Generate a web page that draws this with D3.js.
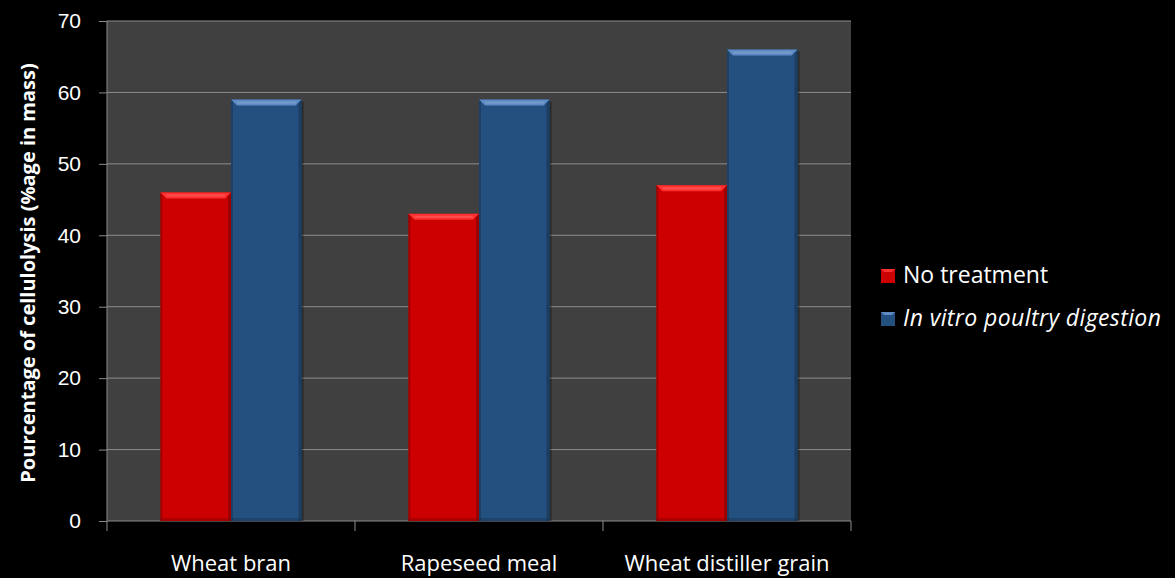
<!DOCTYPE html>
<html>
<head>
<meta charset="utf-8">
<script src="https://cdn.jsdelivr.net/npm/d3@7"></script>
<style>
  html, body { margin: 0; padding: 0; background: #000; }
  svg { display: block; font-family: "Open Sans", "Noto Sans", sans-serif; }
</style>
</head>
<body>
<svg id="chart" width="1175" height="578"></svg>
<script>
// Cellulolysis of feed ingredients, before and after in vitro poultry digestion
const categories = ["Wheat bran", "Rapeseed meal", "Wheat distiller grain"];
const seriesNames = ["No treatment", "In vitro poultry digestion"];
const noTreatment = [46, 43, 47];
const inVitroDigestion = [59, 59, 66];
const yTicks = [0, 10, 20, 30, 40, 50, 60, 70];

const seriesValues = [noTreatment, inVitroDigestion];
const seriesFill = ["#cc0000", "#24507f"];
const seriesLight = ["#ff3030", "#5f8bc4"];
const seriesDark = ["#8a0000", "#173556"];

const svg = d3.select("#chart");
const margin = { left: 107, right: 324, top: 21, bottom: 57 };
const W = 1175, H = 578;

const x = d3.scaleBand()
  .domain(categories)
  .range([margin.left, W - margin.right])
  .paddingInner(0.431)
  .paddingOuter(0.2155);

const xs = d3.scaleBand()
  .domain(d3.range(seriesNames.length))
  .range([0, x.bandwidth()]);

const y = d3.scaleLinear().domain([0, 70]).range([H - margin.bottom, margin.top]);

// plot background
svg.append("rect")
  .attr("x", margin.left).attr("y", margin.top)
  .attr("width", W - margin.right - margin.left)
  .attr("height", y(0) - margin.top)
  .attr("fill", "#404040");

// gridlines
svg.append("g")
  .selectAll("line")
  .data(yTicks.filter(d => d > 0))
  .join("line")
  .attr("x1", margin.left).attr("x2", W - margin.right)
  .attr("y1", d => y(d)).attr("y2", d => y(d))
  .attr("stroke", "#8c8c8c").attr("stroke-width", 1);

// y axis
const yAxis = svg.append("g")
  .attr("transform", `translate(${margin.left},0)`)
  .call(d3.axisLeft(y).tickValues(yTicks).tickSize(8).tickPadding(18).tickFormat(d3.format("d")));
yAxis.selectAll("line, path").attr("stroke", "#8c8c8c");
yAxis.select(".domain").attr("d", `M0,${y(70)}V${y(0)}`);
yAxis.selectAll("text").attr("fill", "#fff").style("font-size", "21px");

// x axis with ticks at category boundaries
const xAxisG = svg.append("g").attr("transform", `translate(0,${y(0)})`);
xAxisG.append("line")
  .attr("x1", margin.left).attr("x2", W - margin.right)
  .attr("stroke", "#8c8c8c");
const step = x.step();
const boundaries = d3.range(categories.length + 1).map(i => margin.left + i * step);
xAxisG.selectAll(".bt").data(boundaries).join("line")
  .attr("class", "bt")
  .attr("x1", d => d).attr("x2", d => d)
  .attr("y1", 0).attr("y2", 10)
  .attr("stroke", "#8c8c8c");
xAxisG.selectAll("text").data(categories).join("text")
  .attr("x", d => margin.left + categories.indexOf(d) * step + step / 2)
  .attr("y", 50)
  .attr("text-anchor", "middle")
  .attr("fill", "#fff")
  .style("font-size", "22px")
  .text(d => d);

// bars with a bevelled look
const bars = svg.append("g");
seriesValues.forEach((vals, s) => {
  vals.forEach((v, i) => {
    const bx = x(categories[i]) + xs(s);
    const bw = xs.bandwidth();
    const by = y(v);
    const bh = y(0) - y(v);
    const g = bars.append("g");
    // soft shadow on the right
    g.append("rect")
      .attr("x", bx + 2).attr("y", by + 2)
      .attr("width", bw).attr("height", bh - 2)
      .attr("fill", "#000").attr("opacity", 0.35);
    g.append("rect")
      .attr("x", bx).attr("y", by)
      .attr("width", bw).attr("height", bh)
      .attr("fill", seriesFill[s]);
    // side edges
    g.append("rect").attr("x", bx).attr("y", by).attr("width", 2).attr("height", bh)
      .attr("fill", seriesDark[s]).attr("opacity", 0.6);
    g.append("rect").attr("x", bx + bw - 3).attr("y", by).attr("width", 3).attr("height", bh)
      .attr("fill", seriesDark[s]).attr("opacity", 0.7);
    // top bevel
    g.append("path")
      .attr("d", `M${bx},${by}H${bx + bw}L${bx + bw - 6},${by + 6}H${bx + 6}Z`)
      .attr("fill", seriesLight[s]);
    g.append("rect").attr("x", bx + 6).attr("y", by + 2).attr("width", bw - 12).attr("height", 2)
      .attr("fill", "#fff").attr("opacity", 0.15);
    // bottom edge
    g.append("rect").attr("x", bx).attr("y", by + bh - 3).attr("width", bw).attr("height", 3)
      .attr("fill", seriesDark[s]).attr("opacity", 0.5);
  });
});

// y axis title
svg.append("text")
  .attr("transform", `translate(35,${(y(0) + y(70)) / 2 + 2}) rotate(-90)`)
  .attr("text-anchor", "middle")
  .attr("fill", "#fff")
  .style("font-size", "20px")
  .style("font-weight", "bold")
  .text("Pourcentage of cellulolysis (%age in mass)");

// legend
const legend = svg.append("g").attr("transform", "translate(881,275)");
seriesNames.forEach((name, s) => {
  const g = legend.append("g").attr("transform", `translate(0,${s * 43})`);
  g.append("rect").attr("x", 0).attr("y", -6).attr("width", 14).attr("height", 14).attr("fill", seriesFill[s]);
  g.append("path").attr("d", "M0,-6H14L11,-3H3Z").attr("fill", seriesLight[s]);
  g.append("text")
    .attr("x", 22).attr("y", 8)
    .attr("fill", "#fff")
    .style("font-size", "23px")
    .style("font-style", s === 1 ? "italic" : "normal")
    .style("letter-spacing", s === 1 ? "0.4px" : "0px")
    .text(name);
});
</script>
</body>
</html>
